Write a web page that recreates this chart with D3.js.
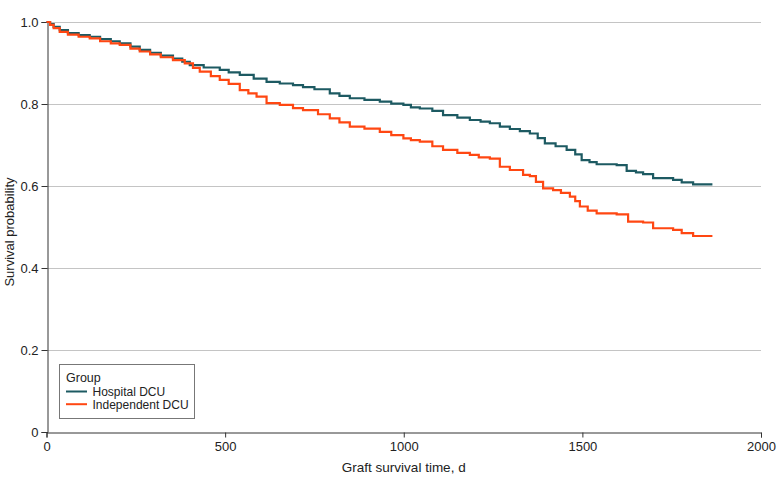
<!DOCTYPE html>
<html>
<head>
<meta charset="utf-8">
<script src="https://cdn.jsdelivr.net/npm/d3@7"></script>
<style>
  html, body { margin: 0; padding: 0; background: #fff; }
  svg { display: block; }
  text { font-family: "Liberation Sans", Arial, sans-serif; fill: #222; }
</style>
</head>
<body>
<svg id="chart" width="780" height="487"></svg>
<script>
// ---- Data ----
const hospitalTime = [0,10,20,37,60,90,121,150,180,205,235,261,290,320,354,380,401,440,485,510,541,580,616,653,690,718,750,793,820,849,890,933,965,999,1020,1045,1080,1110,1150,1185,1215,1241,1269,1297,1325,1353,1375,1395,1425,1456,1480,1498,1520,1540,1596,1624,1650,1670,1698,1754,1778,1810,1864];
const hospitalSurv = [1.000,0.995,0.988,0.980,0.973,0.968,0.964,0.958,0.953,0.948,0.940,0.932,0.925,0.918,0.911,0.903,0.895,0.889,0.883,0.877,0.871,0.862,0.854,0.850,0.846,0.841,0.836,0.826,0.820,0.814,0.810,0.806,0.801,0.798,0.792,0.789,0.783,0.773,0.767,0.761,0.757,0.753,0.745,0.739,0.734,0.728,0.717,0.704,0.697,0.688,0.677,0.663,0.658,0.653,0.651,0.637,0.633,0.629,0.619,0.615,0.609,0.604,0.604];

const independentTime = [0,10,20,37,60,90,121,150,180,205,235,261,290,320,354,387,410,429,460,485,510,541,565,588,616,653,690,718,760,793,820,849,890,933,965,999,1020,1045,1080,1110,1150,1185,1210,1241,1269,1297,1334,1353,1370,1390,1418,1440,1465,1480,1493,1515,1540,1596,1628,1670,1698,1754,1778,1810,1864];
const independentSurv = [1.000,0.993,0.985,0.976,0.969,0.964,0.960,0.953,0.948,0.944,0.935,0.928,0.921,0.914,0.907,0.899,0.888,0.879,0.868,0.859,0.849,0.834,0.826,0.818,0.802,0.798,0.790,0.785,0.775,0.765,0.755,0.745,0.740,0.732,0.724,0.716,0.712,0.708,0.697,0.688,0.681,0.676,0.670,0.667,0.647,0.639,0.627,0.624,0.610,0.594,0.590,0.583,0.574,0.563,0.550,0.540,0.533,0.531,0.513,0.511,0.497,0.493,0.485,0.478,0.478];

const seriesNames = ["Hospital DCU", "Independent DCU"];
const seriesColors = ["#1d5a62", "#ff4712"];
const xTicks = [0, 500, 1000, 1500, 2000];
const yTicks = [0, 0.2, 0.4, 0.6, 0.8, 1.0];
const xTitle = "Graft survival time, d";
const yTitle = "Survival probability";
const legendTitle = "Group";

// ---- Layout ----
const svg = d3.select("#chart");
const m = { left: 46.5, right: 761, top: 22, bottom: 432 };
const x = d3.scaleLinear().domain([0, 2000]).range([m.left, m.right]);
const y = d3.scaleLinear().domain([0, 1]).range([m.bottom, m.top]);

// gridlines
svg.append("g").selectAll("line").data(yTicks.filter(d => d > 0)).join("line")
  .attr("x1", m.left).attr("x2", m.right)
  .attr("y1", d => Math.round(y(d)) + 0.5).attr("y2", d => Math.round(y(d)) + 0.5)
  .attr("stroke", "#c4c4c4").attr("stroke-width", 1.2);

// axes
const xAxis = svg.append("g").attr("transform", `translate(0,${Math.round(m.bottom) + 0.5})`)
  .call(d3.axisBottom(x).tickValues(xTicks).tickFormat(d3.format("d")).tickSize(5).tickPadding(4));
const yAxis = svg.append("g").attr("transform", `translate(${Math.round(m.left) + 0.5},0)`)
  .call(d3.axisLeft(y).tickValues(yTicks).tickFormat(d => d === 0 ? "0" : d3.format(".1f")(d)).tickSize(6).tickPadding(3));
[xAxis, yAxis].forEach(g => {
  g.select(".domain").attr("stroke", "#333");
  g.selectAll(".tick line").attr("stroke", "#333");
  g.selectAll("text").attr("font-size", 13).attr("fill", "#222")
    .attr("font-family", "'Liberation Sans', Arial, sans-serif");
});

// curves
const line = d3.line().curve(d3.curveStepAfter).x(d => x(d[0])).y(d => y(d[1]));
const series = [
  d3.zip(hospitalTime, hospitalSurv),
  d3.zip(independentTime, independentSurv)
];
series.forEach((s, i) => {
  svg.append("path").datum(s).attr("d", line)
    .attr("fill", "none").attr("stroke", seriesColors[i]).attr("stroke-width", 2.2)
    .attr("stroke-linejoin", "miter");
});

// axis titles
svg.append("text").attr("x", (m.left + m.right) / 2).attr("y", 472)
  .attr("text-anchor", "middle").attr("font-size", 13.5).text(xTitle);
svg.append("text").attr("transform", `translate(14,${(m.top + m.bottom) / 2 + 5}) rotate(-90)`)
  .attr("text-anchor", "middle").attr("font-size", 13).text(yTitle);

// legend
const lg = svg.append("g");
lg.append("rect").attr("x", 59.5).attr("y", 364.5).attr("width", 135).attr("height", 54)
  .attr("fill", "#fff").attr("stroke", "#777").attr("stroke-width", 1);
lg.append("text").attr("x", 66).attr("y", 382).attr("font-size", 12.5).text(legendTitle);
seriesNames.forEach((n, i) => {
  const yy = 391.5 + i * 12.7;
  lg.append("line").attr("x1", 66).attr("x2", 87).attr("y1", yy).attr("y2", yy)
    .attr("stroke", seriesColors[i]).attr("stroke-width", 2);
  lg.append("text").attr("x", 92.5).attr("y", yy + 4.5).attr("font-size", 12).text(n);
});
</script>
</body>
</html>
